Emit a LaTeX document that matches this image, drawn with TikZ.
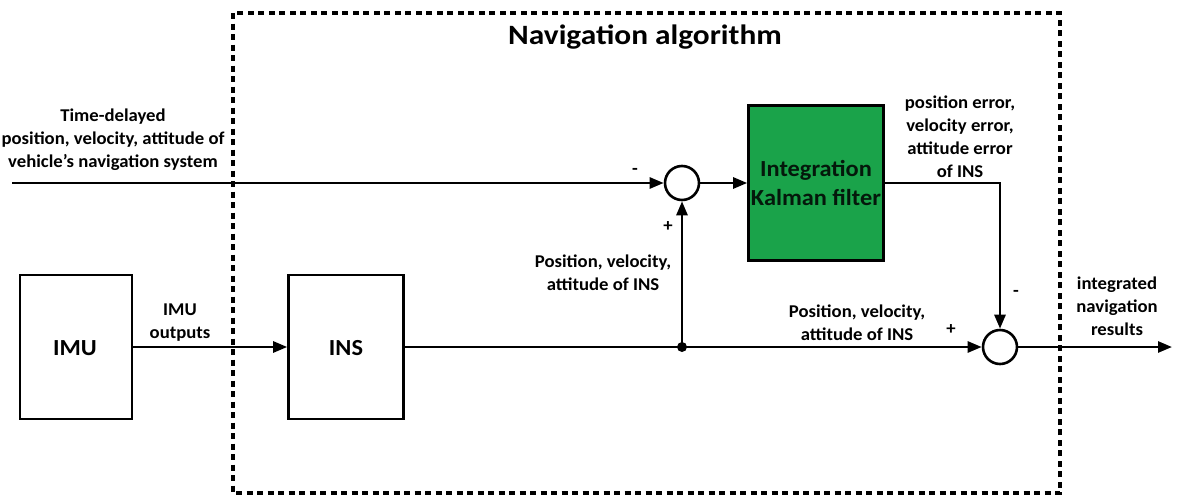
\documentclass[tikz,border=0pt]{standalone}
\usepackage{fontspec}
\setmainfont[FakeStretch=1.04]{Carlito}
\newfontfamily\titlefont[FakeStretch=1.12]{Carlito}
\newfontfamily\boxfont[FakeStretch=1.06]{Carlito}
\usetikzlibrary{arrows.meta}
\definecolor{kgreen}{RGB}{26,163,74}
\begin{document}
\begin{tikzpicture}[x=1pt,y=-1pt,
  lbl/.style={font=\bfseries\fontsize{18}{23}\selectfont, align=center, inner sep=0pt},
  blk/.style={draw, line width=2.6pt, inner sep=0pt},
  sumnode/.style={draw, circle, line width=2.6pt, minimum size=34pt, inner sep=0pt},
  conn/.style={line width=2.6pt, -{Triangle[length=14pt,width=11pt]}},
  plain/.style={line width=2.6pt}]
\useasboundingbox (0,0) rectangle (1190,498);
% dashed box
\draw[line width=3.5pt, dash pattern=on 6pt off 4.5pt] (233,13) rectangle (1060,493);
\node[font=\titlefont\bfseries\fontsize{28}{32}\selectfont, inner sep=0pt] (title) at (645,37) {Navigation algorithm};
% blocks
\node[blk, minimum width=112pt, minimum height=144pt] (imu) at (76,347) {};
\node[font=\boxfont\bfseries\fontsize{23}{26}\selectfont, inner sep=0pt] (imut) at (75,348) {IMU};
\node[blk, minimum width=115pt, minimum height=144pt] (ins) at (346,347) {};
\node[font=\boxfont\bfseries\fontsize{23}{26}\selectfont, inner sep=0pt] (inst) at (346,348) {INS};
\node[blk, fill=kgreen, minimum width=135pt, minimum height=155pt, align=center,
  font=\boxfont\bfseries\fontsize{23}{29}\selectfont, text=black!85!kgreen] (kf) at (816,183) {Integration\\Kalman filter};
\node[sumnode] (s1) at (682,183) {};
\node[sumnode] (s2) at (1000,347) {};
\coordinate (tdstart) at (12,183);
\coordinate (junc) at (682,347);
\coordinate (corner) at (1000,183);
\coordinate (outend) at (1172,347);
% connectors
\draw[conn] (tdstart) -- (s1.west);
\draw[conn] (s1.east) -- (kf.west);
\draw[conn] (imu.east |- junc) -- (ins.west |- junc);
\draw[plain] (ins.east |- junc) -- (junc);
\draw[conn] (junc) -- (s2.west);
\draw[conn] (junc) -- (s1.south);
\draw[conn] (kf.east |- corner) -- (corner) -- (s2.north);
\draw[conn] (s2.east) -- (outend);
\fill (junc) circle (5pt);
% labels
\node[lbl] (l1) at (113,140) {Time-delayed\\position, velocity, attitude of\\vehicle's navigation system};
\node[lbl] (l2) at (180,323) {IMU\\outputs};
\node[lbl] (l3) at (603,273) {Position, velocity,\\attitude of INS};
\node[lbl] (l4) at (857,323) {Position, velocity,\\attitude of INS};
\node[lbl] (l5) at (960,137) {position error,\\velocity error,\\attitude error\\of INS};
\node[lbl] (l6) at (1117,306) {integrated\\navigation\\results};
\node[lbl] (m1) at (635,171) {-};
\node[lbl] (p1) at (668,227) {+};
\node[lbl] (m2) at (1016,293) {-};
\node[lbl] (p2) at (951,330) {+};
\end{tikzpicture}
\end{document}
